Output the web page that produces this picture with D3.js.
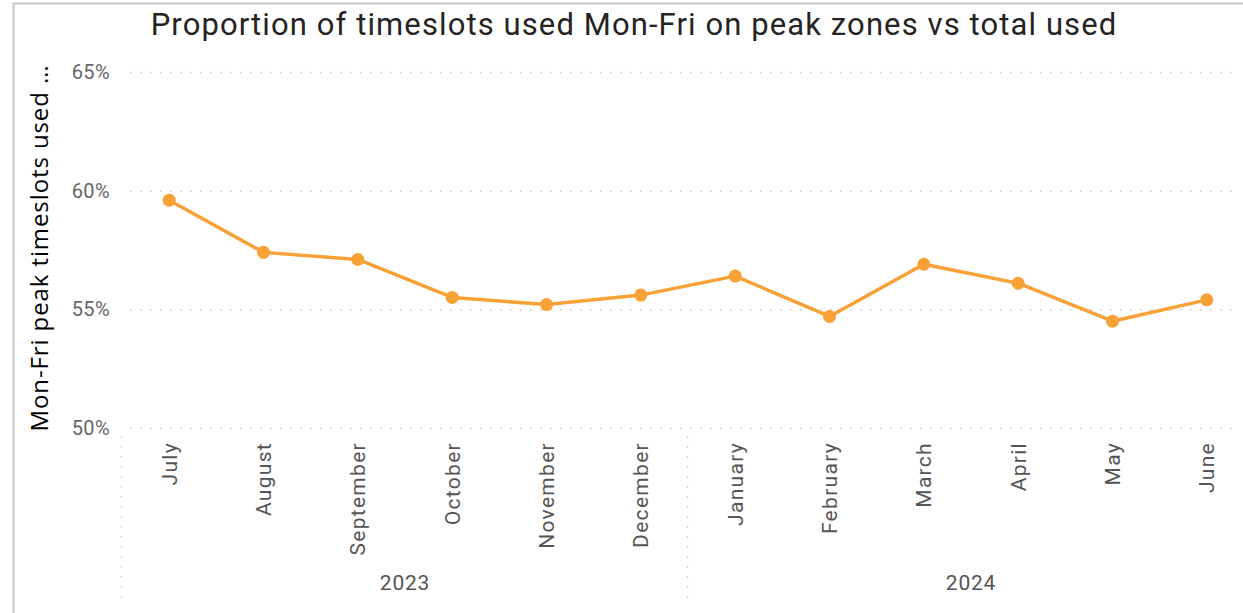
<!DOCTYPE html>
<html>
<head>
<meta charset="utf-8">
<script src="https://cdn.jsdelivr.net/npm/d3@7"></script>
<style>
  body { margin: 0; background: #fff; }
  svg { display: block; }
</style>
</head>
<body>
<div id="chart"></div>
<script>
const months = ["July", "August", "September", "October", "November", "December",
  "January", "February", "March", "April", "May", "June"]
const years = ["2023", "2023", "2023", "2023", "2023", "2023",
  "2024", "2024", "2024", "2024", "2024", "2024"]
const shares = [59.6, 57.4, 57.1, 55.5, 55.2, 55.6, 56.4, 54.7, 56.9, 56.1, 54.5, 55.4]
const yTicks = [50, 55, 60, 65]

const W = 1243, H = 613
const PLOT = { LEFT: 122, RIGHT: 1254, TOP: 72, BOTTOM: 428 }
const ORANGE = "#F7A136"
const FONT = "Roboto, 'DejaVu Sans', sans-serif"

const data = months.map((m, i) => ({ key: years[i] + "-" + m, month: m, year: years[i], value: shares[i] }))

const svg = d3.select("#chart").append("svg")
  .attr("width", W)
  .attr("height", H)

// visual frame
svg.append("path")
  .attr("d", `M13.5,${H} V3.5 H${W}`)
  .attr("fill", "none")
  .attr("stroke", "#c6c6c6")
  .attr("stroke-width", 2)

svg.append("text")
  .attr("x", 634)
  .attr("y", 35)
  .attr("text-anchor", "middle")
  .attr("font-family", FONT)
  .attr("font-size", 31)
  .attr("letter-spacing", 1.1)
  .attr("fill", "#252423")
  .text("Proportion of timeslots used Mon-Fri on peak zones vs total used")

const x = d3.scaleBand()
  .domain(data.map(d => d.key))
  .range([PLOT.LEFT, PLOT.RIGHT])

const y = d3.scaleLinear()
  .domain([50, 65])
  .range([PLOT.BOTTOM, PLOT.TOP])

// gridlines
svg.append("g")
  .selectAll("line")
  .data(yTicks)
  .join("line")
    .attr("x1", 130)
    .attr("x2", W - 10)
    .attr("y1", d => y(d) + 0.5)
    .attr("y2", d => y(d) + 0.5)
    .attr("stroke", "#c8c8c8")
    .attr("stroke-width", 1.5)
    .attr("stroke-dasharray", "1.5,8.5")

// y axis
const yAxis = svg.append("g")
  .attr("transform", "translate(110,0)")
  .call(d3.axisLeft(y).tickValues(yTicks).tickFormat(d => d + "%").tickSize(0).tickPadding(0))
yAxis.select(".domain").remove()
yAxis.selectAll("text")
  .attr("font-family", FONT)
  .attr("font-size", 20)
  .attr("letter-spacing", 0.4)
  .attr("fill", "#666")

svg.append("text")
  .attr("transform", `translate(48, ${(PLOT.TOP + PLOT.BOTTOM) / 2 - 2}) rotate(-90)`)
  .attr("text-anchor", "middle")
  .attr("font-family", "'Open Sans', sans-serif")
  .attr("font-size", 24)
  .attr("letter-spacing", 0.9)
  .attr("fill", "#000")
  .text("Mon-Fri peak timeslots used …")

// x axis: months
const xAxis = svg.append("g")
  .attr("transform", `translate(0, ${PLOT.BOTTOM})`)
  .call(d3.axisBottom(x).tickFormat(k => k.split("-")[1]).tickSize(0).tickPadding(0))
xAxis.select(".domain").remove()
xAxis.selectAll("text")
  .attr("font-family", FONT)
  .attr("font-size", 21)
  .attr("letter-spacing", 1.3)
  .attr("fill", "#555")
  .attr("text-anchor", "end")
  .attr("dy", "0.35em")
  .attr("transform", "translate(0,14) rotate(-90)")
  .attr("y", 0)

// year groups
const yearNames = Array.from(new Set(years))
const yearBounds = yearNames.map(yr => {
  const keys = data.filter(d => d.year === yr).map(d => d.key)
  return { year: yr, x0: x(keys[0]), x1: x(keys[keys.length - 1]) + x.bandwidth() }
})

svg.append("g")
  .selectAll("line")
  .data(yearBounds)
  .join("line")
    .attr("x1", d => d.x0 - 0.5)
    .attr("x2", d => d.x0 - 0.5)
    .attr("y1", PLOT.BOTTOM + 8)
    .attr("y2", 600)
    .attr("stroke", "#c8c8c8")
    .attr("stroke-width", 1.5)
    .attr("stroke-dasharray", "1.5,8.5")

svg.append("g")
  .selectAll("text")
  .data(yearBounds)
  .join("text")
    .attr("x", d => (d.x0 + d.x1) / 2)
    .attr("y", 590)
    .attr("text-anchor", "middle")
    .attr("font-family", FONT)
    .attr("font-size", 21)
    .attr("letter-spacing", 0.8)
    .attr("fill", "#555")
    .text(d => d.year)

// series
const line = d3.line()
  .x(d => x(d.key) + x.bandwidth() / 2)
  .y(d => y(d.value))

svg.append("path")
  .datum(data)
  .attr("d", line)
  .attr("fill", "none")
  .attr("stroke", ORANGE)
  .attr("stroke-width", 3.5)
  .attr("stroke-linejoin", "round")

svg.append("g")
  .selectAll("circle")
  .data(data)
  .join("circle")
    .attr("cx", d => x(d.key) + x.bandwidth() / 2)
    .attr("cy", d => y(d.value))
    .attr("r", 6.5)
    .attr("fill", ORANGE)
</script>
</body>
</html>
